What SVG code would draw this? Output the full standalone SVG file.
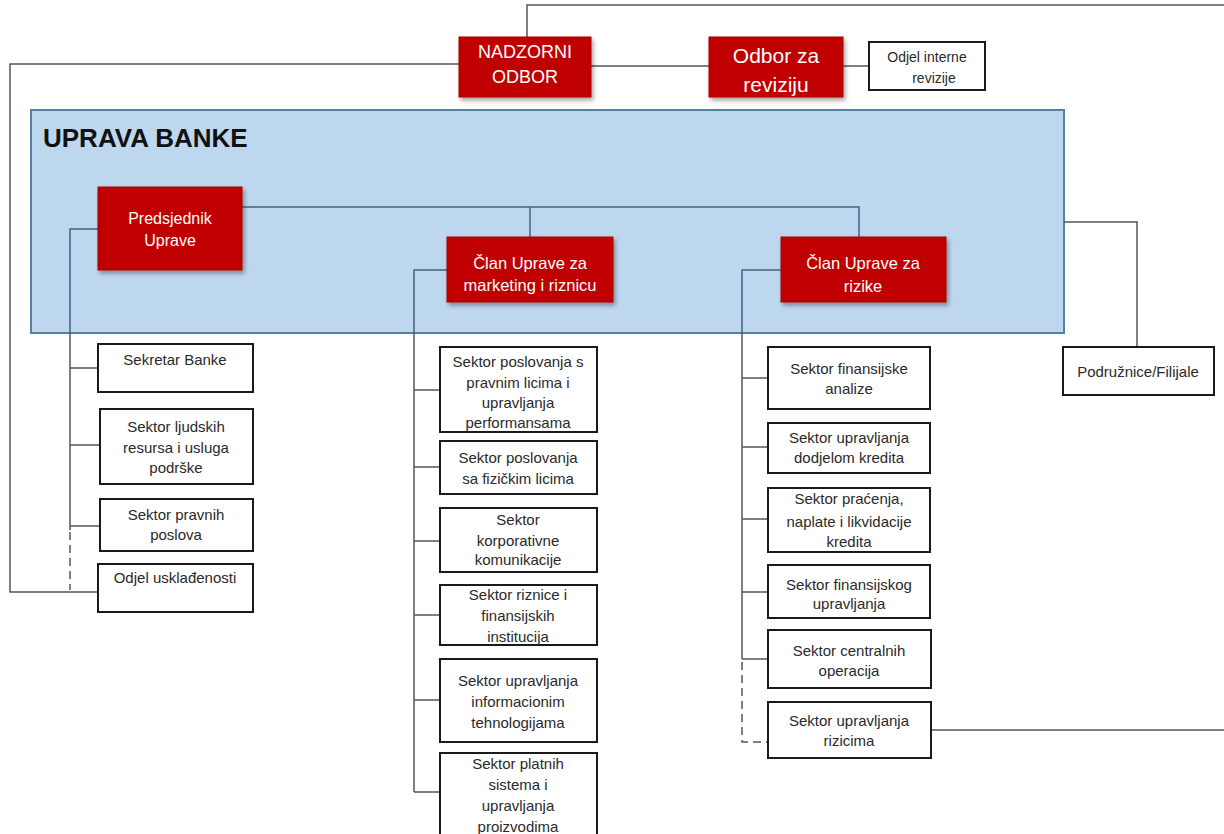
<svg xmlns="http://www.w3.org/2000/svg" width="1224" height="834" viewBox="0 0 1224 834">
<style>
.red{fill:#c00000;stroke:#a80000;stroke-width:1;filter:url(#sh)}
.wb{fill:#ffffff;stroke:#1a1a1a;stroke-width:2}
.rt{font-family:"Liberation Sans",Arial,sans-serif;fill:#ffffff;text-anchor:middle}
.bt{font-family:"Liberation Sans",Arial,sans-serif;fill:#2a2a2a;font-size:15px;text-anchor:middle}
.ln{fill:none;stroke:#555555;stroke-width:1.5}
.li{fill:none;stroke:#44627f;stroke-width:1.5}
.ds{fill:none;stroke:#555555;stroke-width:1.5;stroke-dasharray:8,5}
</style>
<defs>
<filter id="sh" x="-10%" y="-10%" width="125%" height="130%">
<feDropShadow dx="2" dy="3" stdDeviation="2" flood-color="#000" flood-opacity="0.35"/>
</filter>
</defs>
<rect width="1224" height="834" fill="#ffffff"/>

<g id="uprava">
<rect x="31" y="110" width="1033" height="223" fill="#bdd7ee" stroke="#5b7fa0" stroke-width="2"/>
<text x="43" y="147" font-family="'Liberation Sans',Arial,sans-serif" font-size="26" font-weight="bold" fill="#111111">UPRAVA BANKE</text>
</g>

<g id="connectors">
<polyline class="ln" points="527,37 527,5 1224,5"/>
<polyline class="ln" points="459,64 10,64 10,592 98,592"/>
<line class="ln" x1="591" y1="66" x2="709" y2="66"/>
<line class="ln" x1="843" y1="66" x2="869" y2="66"/>
<polyline class="li" points="242,207 859,207 859,237"/>
<line class="li" x1="530" y1="207" x2="530" y2="237"/>
<polyline class="li" points="98,229 70,229 70,333"/>
<polyline class="li" points="447,270 414,270 414,333"/>
<polyline class="li" points="781,270 742,270 742,333"/>
<line class="ln" x1="70" y1="333" x2="70" y2="530"/>
<line class="ds" x1="70" y1="532" x2="70" y2="590"/>
<line class="ln" x1="70" y1="368" x2="98" y2="368"/>
<line class="ln" x1="70" y1="445" x2="100" y2="445"/>
<line class="ln" x1="70" y1="526" x2="100" y2="526"/>
<line class="ln" x1="414" y1="333" x2="414" y2="792"/>
<line class="ln" x1="414" y1="390" x2="440" y2="390"/>
<line class="ln" x1="414" y1="467" x2="440" y2="467"/>
<line class="ln" x1="414" y1="541" x2="440" y2="541"/>
<line class="ln" x1="414" y1="615" x2="440" y2="615"/>
<line class="ln" x1="414" y1="700" x2="440" y2="700"/>
<line class="ln" x1="414" y1="792" x2="440" y2="792"/>
<line class="ln" x1="742" y1="333" x2="742" y2="659"/>
<polyline class="ds" points="742,662 742,742 768,742"/>
<line class="ln" x1="742" y1="378" x2="768" y2="378"/>
<line class="ln" x1="742" y1="447" x2="768" y2="447"/>
<line class="ln" x1="742" y1="519" x2="768" y2="519"/>
<line class="ln" x1="742" y1="592" x2="768" y2="592"/>
<line class="ln" x1="742" y1="659" x2="768" y2="659"/>
<polyline class="ln" points="1064,222 1137,222 1137,347"/>
<line class="ln" x1="930" y1="730" x2="1224" y2="730"/>
</g>

<g id="nadzorni-odbor">
<rect class="red" x="459" y="37" width="132" height="60"/>
<text class="rt" font-size="18" x="525" y="58">NADZORNI</text>
<text class="rt" font-size="18" x="525" y="83">ODBOR</text>
</g>
<g id="odbor-za-reviziju">
<rect class="red" x="709" y="37" width="134" height="60"/>
<text class="rt" font-size="21" x="776" y="63">Odbor za</text>
<text class="rt" font-size="21" x="776" y="92">reviziju</text>
</g>
<g id="odjel-interne-revizije">
<rect class="wb" x="869" y="42" width="116" height="48"/>
<text class="bt" x="927" y="62" style="font-size:14px">Odjel interne</text>
<text class="bt" x="934" y="83" style="font-size:14px">revizije</text>
</g>

<g id="predsjednik">
<rect class="red" x="98" y="187" width="144" height="83"/>
<text class="rt" font-size="16" x="170" y="224">Predsjednik</text>
<text class="rt" font-size="16" x="170" y="246">Uprave</text>
</g>
<g id="clan-marketing">
<rect class="red" x="447" y="237" width="166" height="65"/>
<text class="rt" font-size="16.5" x="530" y="269">Član Uprave za</text>
<text class="rt" font-size="16.5" x="530" y="291">marketing i riznicu</text>
</g>
<g id="clan-rizike">
<rect class="red" x="781" y="237" width="165" height="65"/>
<text class="rt" font-size="16.5" x="863" y="269">Član Uprave za</text>
<text class="rt" font-size="16.5" x="863" y="292">rizike</text>
</g>

<g id="sekretar-banke">
<rect class="wb" x="98" y="344" width="155" height="48"/>
<text class="bt" x="175" y="365">Sekretar Banke</text>
</g>
<g id="sektor-ljudskih-resursa">
<rect class="wb" x="100" y="409" width="153" height="75"/>
<text class="bt" x="176" y="432">Sektor ljudskih</text>
<text class="bt" x="176" y="453">resursa i usluga</text>
<text class="bt" x="176" y="473">podrške</text>
</g>
<g id="sektor-pravnih-poslova">
<rect class="wb" x="100" y="499" width="153" height="52"/>
<text class="bt" x="176" y="520">Sektor pravnih</text>
<text class="bt" x="176" y="540">poslova</text>
</g>
<g id="odjel-uskladjenosti">
<rect class="wb" x="98" y="564" width="155" height="48"/>
<text class="bt" x="175" y="583">Odjel usklađenosti</text>
</g>

<g id="sektor-pravnim-licima">
<rect class="wb" x="440" y="347" width="157" height="85"/>
<text class="bt" x="518" y="367">Sektor poslovanja s</text>
<text class="bt" x="518" y="388">pravnim licima i</text>
<text class="bt" x="518" y="408">upravljanja</text>
<text class="bt" x="518" y="428">performansama</text>
</g>
<g id="sektor-fizickim-licima">
<rect class="wb" x="440" y="441" width="157" height="53"/>
<text class="bt" x="518" y="463">Sektor poslovanja</text>
<text class="bt" x="518" y="484">sa fizičkim licima</text>
</g>
<g id="sektor-korporativne-komunikacije">
<rect class="wb" x="440" y="508" width="157" height="64"/>
<text class="bt" x="518" y="525">Sektor</text>
<text class="bt" x="518" y="546">korporativne</text>
<text class="bt" x="518" y="565">komunikacije</text>
</g>
<g id="sektor-riznice">
<rect class="wb" x="440" y="585" width="157" height="60"/>
<text class="bt" x="518" y="600">Sektor riznice i</text>
<text class="bt" x="518" y="621">finansijskih</text>
<text class="bt" x="518" y="642">institucija</text>
</g>
<g id="sektor-it">
<rect class="wb" x="440" y="659" width="157" height="83"/>
<text class="bt" x="518" y="686">Sektor upravljanja</text>
<text class="bt" x="518" y="707">informacionim</text>
<text class="bt" x="518" y="728">tehnologijama</text>
</g>
<g id="sektor-platnih-sistema">
<rect class="wb" x="440" y="753" width="157" height="84"/>
<text class="bt" x="518" y="769">Sektor platnih</text>
<text class="bt" x="518" y="790">sistema i</text>
<text class="bt" x="518" y="811">upravljanja</text>
<text class="bt" x="518" y="832">proizvodima</text>
</g>

<g id="sektor-finansijske-analize">
<rect class="wb" x="768" y="347" width="162" height="62"/>
<text class="bt" x="849" y="374">Sektor finansijske</text>
<text class="bt" x="849" y="394">analize</text>
</g>
<g id="sektor-dodjele-kredita">
<rect class="wb" x="768" y="423" width="162" height="50"/>
<text class="bt" x="849" y="443">Sektor upravljanja</text>
<text class="bt" x="849" y="463">dodjelom kredita</text>
</g>
<g id="sektor-pracenja">
<rect class="wb" x="768" y="488" width="162" height="64"/>
<text class="bt" x="849" y="504">Sektor praćenja,</text>
<text class="bt" x="849" y="527">naplate i likvidacije</text>
<text class="bt" x="849" y="547">kredita</text>
</g>
<g id="sektor-finansijskog-upravljanja">
<rect class="wb" x="768" y="565" width="162" height="53"/>
<text class="bt" x="849" y="590">Sektor finansijskog</text>
<text class="bt" x="849" y="609">upravljanja</text>
</g>
<g id="sektor-centralnih-operacija">
<rect class="wb" x="768" y="630" width="163" height="58"/>
<text class="bt" x="849" y="656">Sektor centralnih</text>
<text class="bt" x="849" y="676">operacija</text>
</g>
<g id="sektor-upravljanja-rizicima">
<rect class="wb" x="768" y="702" width="163" height="56"/>
<text class="bt" x="849" y="726">Sektor upravljanja</text>
<text class="bt" x="849" y="746">rizicima</text>
</g>

<g id="podruznice-filijale">
<rect class="wb" x="1063" y="347" width="151" height="48"/>
<text class="bt" x="1138" y="377">Podružnice/Filijale</text>
</g>
</svg>
